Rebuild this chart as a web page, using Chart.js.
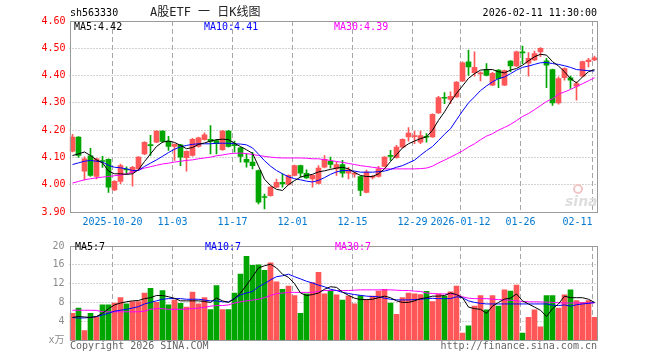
<!DOCTYPE html>
<html><head><meta charset="utf-8">
<script src="https://cdn.jsdelivr.net/npm/chart.js@4.4.1/dist/chart.umd.min.js"></script>
<style>
html,body{margin:0;padding:0;background:#fff;width:660px;height:360px;overflow:hidden;}
#wrap{position:relative;width:660px;height:360px;}
canvas{position:absolute;left:0;}
#c1{top:0;} #c2{top:235px;}
.t{position:absolute;font-family:"DejaVu Sans Mono","Noto Sans CJK SC",monospace;font-size:10px;line-height:12px;white-space:pre;color:#000;}
</style></head><body>
<div id="wrap">
<canvas id="c1" width="660" height="235"></canvas>
<canvas id="c2" width="660" height="125"></canvas>
<div class="t" style="left:70px;top:7px;">sh563330</div>
<div class="t" style="left:150px;top:6px;font-size:12px;line-height:13px;color:#222;">A股ETF 一 日K线图</div>
<div class="t" style="right:63px;top:7px;">2026-02-11 11:30:00</div>
<div class="t" style="left:74px;top:21px;">MA5:4.42</div>
<div class="t" style="left:204px;top:21px;color:#0000ff;">MA10:4.41</div>
<div class="t" style="left:334px;top:21px;color:#ff00ff;">MA30:4.39</div>
<div class="t" style="left:75px;top:241px;">MA5:7</div>
<div class="t" style="left:205px;top:241px;color:#0000ff;">MA10:7</div>
<div class="t" style="left:335px;top:241px;color:#ff00ff;">MA30:7</div>
<div class="t" style="left:70px;top:340px;color:#666;">Copyright 2026 SINA.COM</div>
<div class="t" style="right:63px;top:340px;color:#666;">http://finance.sina.com.cn</div>
</div>
<script>
const dates = [
'2025-10-09','2025-10-10','2025-10-13','2025-10-14','2025-10-15','2025-10-16','2025-10-17','2025-10-20','2025-10-21','2025-10-22','2025-10-23','2025-10-24','2025-10-27','2025-10-28','2025-10-29','2025-10-30','2025-10-31',
'2025-11-03','2025-11-04','2025-11-05','2025-11-06','2025-11-07','2025-11-10','2025-11-11','2025-11-12','2025-11-13','2025-11-14','2025-11-17','2025-11-18','2025-11-19','2025-11-20','2025-11-21','2025-11-24','2025-11-25','2025-11-26','2025-11-27','2025-11-28',
'2025-12-01','2025-12-02','2025-12-03','2025-12-04','2025-12-05','2025-12-08','2025-12-09','2025-12-10','2025-12-11','2025-12-12','2025-12-15','2025-12-16','2025-12-17','2025-12-18','2025-12-19','2025-12-22','2025-12-23','2025-12-24','2025-12-25','2025-12-26','2025-12-29','2025-12-30','2025-12-31',
'2026-01-05','2026-01-06','2026-01-07','2026-01-08','2026-01-09','2026-01-12','2026-01-13','2026-01-14','2026-01-15','2026-01-16','2026-01-19','2026-01-20','2026-01-21','2026-01-22','2026-01-23','2026-01-26','2026-01-27','2026-01-28','2026-01-29','2026-01-30',
'2026-02-02','2026-02-03','2026-02-04','2026-02-05','2026-02-06','2026-02-09','2026-02-10','2026-02-11'];

const opens = [4.123,4.175,4.050,4.106,4.030,4.088,4.093,3.981,4.012,4.057,4.046,4.058,4.113,4.146,4.156,4.197,4.160,4.140,4.146,4.099,
4.107,4.140,4.165,4.166,4.162,4.128,4.197,4.146,4.135,4.093,4.083,4.052,3.956,3.960,3.991,4.009,4.001,4.034,4.070,4.042,
4.021,4.005,4.064,4.086,4.058,4.074,4.042,4.039,4.030,3.972,4.027,4.030,4.067,4.106,4.099,4.138,4.175,4.176,4.156,4.176,
4.175,4.263,4.320,4.313,4.322,4.380,4.450,4.411,4.406,4.422,4.365,4.420,4.365,4.453,4.435,4.485,4.445,4.457,4.487,4.454,
4.422,4.300,4.392,4.392,4.361,4.398,4.451,4.457];
const highs = [4.185,4.176,4.102,4.133,4.097,4.104,4.095,4.015,4.076,4.066,4.067,4.103,4.158,4.181,4.198,4.198,4.177,4.150,4.148,4.124,
4.170,4.175,4.190,4.217,4.166,4.199,4.199,4.160,4.137,4.113,4.119,4.054,3.966,3.993,4.021,4.040,4.036,4.072,4.072,4.055,
4.036,4.070,4.107,4.101,4.083,4.089,4.064,4.046,4.032,4.054,4.034,4.067,4.103,4.126,4.144,4.168,4.209,4.197,4.197,4.187,
4.260,4.324,4.338,4.340,4.378,4.450,4.493,4.487,4.414,4.444,4.412,4.422,4.420,4.455,4.490,4.508,4.484,4.490,4.503,4.463,
4.424,4.395,4.428,4.398,4.377,4.453,4.463,4.471];
const lows = [4.120,4.100,4.018,4.030,4.021,4.063,3.972,3.978,4.004,4.040,3.995,4.056,4.110,4.107,4.154,4.155,4.126,4.089,4.070,4.050,
4.105,4.138,4.163,4.113,4.113,4.126,4.138,4.119,4.083,4.064,4.058,3.930,3.911,3.958,3.989,3.991,3.999,4.032,4.028,4.023,
3.991,4.003,4.062,4.061,4.034,4.028,4.021,4.028,3.960,3.970,4.021,4.028,4.065,4.089,4.097,4.136,4.160,4.150,4.150,4.156,
4.173,4.261,4.297,4.297,4.320,4.378,4.401,4.398,4.380,4.399,4.363,4.356,4.363,4.414,4.433,4.444,4.398,4.455,4.469,4.356,
4.291,4.295,4.383,4.353,4.310,4.396,4.432,4.455];
const closes = [4.175,4.107,4.095,4.034,4.095,4.085,3.991,4.012,4.070,4.054,4.064,4.101,4.155,4.143,4.197,4.159,4.140,4.148,4.101,4.122,
4.166,4.172,4.183,4.159,4.150,4.197,4.140,4.143,4.104,4.083,4.070,3.936,3.953,3.991,4.009,4.003,4.034,4.070,4.042,4.025,
4.034,4.061,4.093,4.074,4.074,4.042,4.055,4.041,3.979,4.046,4.029,4.058,4.101,4.104,4.138,4.166,4.189,4.178,4.180,4.174,
4.258,4.319,4.317,4.324,4.376,4.447,4.432,4.430,4.408,4.401,4.408,4.389,4.418,4.435,4.487,4.483,4.463,4.481,4.500,4.438,
4.300,4.389,4.426,4.383,4.371,4.451,4.457,4.465];

const ma5 = [4.107,4.113,4.120,4.107,4.091,4.080,4.050,4.040,4.040,4.038,4.040,4.055,4.085,4.113,4.140,4.156,4.160,4.155,4.144,4.132,
4.136,4.148,4.153,4.160,4.165,4.167,4.165,4.152,4.140,4.128,4.115,4.068,4.020,3.997,3.983,3.979,4.000,4.015,4.028,4.034,
4.038,4.047,4.051,4.056,4.061,4.064,4.058,4.045,4.034,4.030,4.030,4.040,4.058,4.085,4.110,4.135,4.150,4.160,4.169,4.175,
4.200,4.236,4.267,4.303,4.335,4.362,4.390,4.407,4.420,4.422,4.422,4.414,4.410,4.420,4.426,4.438,4.454,4.469,4.478,4.475,
4.451,4.435,4.414,4.389,4.373,4.395,4.414,4.422];
const ma10 = [4.074,4.080,4.086,4.089,4.086,4.083,4.071,4.064,4.062,4.058,4.052,4.052,4.067,4.079,4.091,4.104,4.118,4.130,4.139,4.144,
4.148,4.150,4.150,4.150,4.152,4.152,4.152,4.150,4.149,4.146,4.135,4.112,4.088,4.068,4.052,4.040,4.029,4.022,4.018,4.013,
4.010,4.016,4.026,4.038,4.047,4.052,4.052,4.050,4.046,4.046,4.046,4.048,4.050,4.056,4.064,4.070,4.080,4.090,4.108,4.125,
4.140,4.162,4.185,4.205,4.238,4.270,4.300,4.322,4.345,4.362,4.377,4.389,4.395,4.407,4.420,4.430,4.435,4.441,4.447,4.448,
4.444,4.441,4.436,4.430,4.422,4.420,4.418,4.417];
const ma30 = [4.006,4.012,4.018,4.022,4.025,4.028,4.030,4.033,4.035,4.040,4.046,4.054,4.061,4.066,4.071,4.076,4.079,4.083,4.086,4.089,
4.091,4.095,4.098,4.101,4.106,4.109,4.113,4.115,4.116,4.114,4.111,4.107,4.104,4.101,4.099,4.098,4.098,4.098,4.098,4.097,
4.095,4.095,4.092,4.089,4.085,4.082,4.078,4.074,4.070,4.067,4.064,4.061,4.058,4.058,4.058,4.058,4.058,4.058,4.059,4.061,
4.068,4.080,4.090,4.101,4.112,4.124,4.138,4.150,4.165,4.178,4.187,4.200,4.210,4.221,4.235,4.250,4.261,4.275,4.290,4.305,
4.315,4.332,4.340,4.349,4.360,4.370,4.381,4.392];

const volumes = [5.67,6.8,2.0,5.67,5.0,7.47,7.47,7.87,9.0,7.67,8.2,8.2,10.0,11.0,8.0,10.53,7.47,8.47,7.8,7.0,
10.2,7.67,9.0,6.47,11.6,6.47,6.47,10.0,14.0,17.8,15.87,16.0,14.8,16.4,12.4,10.8,11.47,9.47,5.67,9.8,
12.2,14.4,9.8,10.5,9.6,8.47,9.33,7.67,9.47,8.47,9.33,10.4,10.8,7.87,5.47,9.0,10.0,9.8,9.67,10.33,
8.2,9.8,9.33,10.27,11.47,1.47,3.0,7.2,9.47,6.4,9.47,7.2,10.67,10.4,11.67,1.47,4.8,6.4,2.8,9.47,
9.47,6.8,9.6,10.67,8.4,8.0,8.4,4.8];
const volMa5 = [4.8,5.0,4.9,4.8,5.0,5.67,6.67,7.47,7.87,8.13,8.33,8.4,8.8,9.0,9.47,9.47,9.2,8.87,8.33,8.33,
8.33,8.33,8.2,8.0,8.93,8.33,8.0,8.8,10.0,11.67,13.47,15.33,15.8,16.13,15.33,14.0,13.33,12.0,10.0,9.47,
9.67,10.0,10.8,11.33,11.2,10.2,9.5,8.9,8.6,8.6,8.67,9.0,9.33,9.0,8.33,8.0,8.0,8.33,8.8,9.0,
9.33,9.33,9.47,10.0,9.67,9.0,7.0,6.67,6.53,5.67,7.2,8.0,8.7,8.9,9.8,8.33,7.67,7.0,6.33,5.0,
6.67,7.67,9.33,9.0,9.0,9.0,8.67,8.0];
const volMa10 = [4.8,4.67,4.7,4.8,5.0,5.33,5.67,6.13,6.33,6.53,6.8,7.1,7.67,8.0,8.33,8.67,8.8,8.8,8.8,8.67,
8.67,8.67,8.5,8.33,8.33,8.13,8.13,8.8,9.6,10.0,10.33,11.33,12.0,12.8,13.47,13.67,14.0,13.47,13.0,12.5,
12.13,11.67,11.33,10.8,10.53,10.13,9.9,9.67,9.5,9.33,9.25,9.2,8.9,8.67,8.53,8.53,8.53,8.6,8.67,8.8,
8.87,8.8,8.8,8.8,9.2,9.0,8.33,8.0,7.8,7.67,7.67,7.67,7.67,7.67,7.67,7.67,7.67,7.67,7.67,7.67,
7.4,7.33,7.47,7.2,7.5,7.67,7.8,8.0];
const volMa30 = [6.33,6.33,6.33,6.33,6.3,6.0,6.0,6.0,6.0,6.0,6.0,6.0,6.13,6.53,6.67,6.67,6.53,6.53,6.53,6.6,
6.67,6.8,6.93,7.2,7.33,7.33,7.47,7.87,8.13,8.33,8.5,8.67,9.0,9.47,9.87,10.0,10.13,10.13,10.13,10.13,
10.13,10.33,10.53,10.53,10.53,10.53,10.53,10.6,10.67,10.67,10.67,10.67,10.67,10.67,10.6,10.53,10.53,10.4,10.33,10.0,
9.9,9.8,9.8,9.8,9.67,9.2,8.9,8.8,8.8,8.8,8.67,8.6,8.53,8.45,8.33,8.2,8.13,8.13,8.1,8.05,
8.0,7.93,7.87,7.87,7.87,7.87,7.87,7.87];

const tickDates = ['2025-10-20','2025-11-03','2025-11-17','2025-12-01','2025-12-15','2025-12-29','2026-01-12','2026-01-26','2026-02-11'];
const tickTexts = ['2025-10-20','11-03','11-17','12-01','12-15','12-29','2026-01-12','01-26','02-11'];

const RED = '#ff5757', GREEN = '#00a600';
const FONT = '"DejaVu Sans Mono","Noto Sans CJK SC",monospace';
const candleColors = closes.map((c, i) => c >= opens[i] ? RED : GREEN);

function lineDs(data, color) {
  return {type:'line', data, borderColor:color, borderWidth:1, pointRadius:0, tension:0, fill:false, order:0};
}

function decor(withLabels, watermark) {
  return {
    id: 'decor',
    beforeDatasetsDraw(chart) {
      const {ctx, chartArea:a, scales:{x, y}} = chart;
      ctx.save();
      ctx.lineWidth = 1;
      ctx.strokeStyle = '#a6a6a6';
      ctx.setLineDash([1, 2]);
      y.ticks.forEach((t, k) => {
        if (k === 0 || k === y.ticks.length - 1) return;
        const py = Math.floor(y.getPixelForValue(t.value)) + 0.5;
        ctx.beginPath(); ctx.moveTo(a.left, py); ctx.lineTo(a.right, py); ctx.stroke();
      });
      ctx.setLineDash([5, 3]);
      tickDates.forEach(d => {
        const i = dates.indexOf(d);
        const px = Math.floor(x.getPixelForValue(i)) - 2 + 0.5;
        ctx.beginPath(); ctx.moveTo(px, a.top); ctx.lineTo(px, a.bottom); ctx.stroke();
      });
      ctx.setLineDash([]);
      if (watermark) {
        ctx.strokeStyle = '#f2c6c6'; ctx.lineWidth = 2;
        ctx.beginPath(); ctx.arc(578, 189, 4, 0, Math.PI * 2); ctx.stroke();
        ctx.fillStyle = '#dedede';
        ctx.font = 'italic bold 14px "DejaVu Sans"';
        ctx.textAlign = 'left'; ctx.textBaseline = 'alphabetic';
        ctx.fillText('sina', 565, 206);
      }
      ctx.restore();
    },
    afterDatasetsDraw(chart) {
      const {ctx, chartArea:a} = chart;
      ctx.save();
      ctx.strokeStyle = '#9a9a9a'; ctx.lineWidth = 1;
      const l = Math.round(a.left) + 0.5, r = Math.floor(a.right) + 0.5;
      const t = Math.round(a.top) + 0.5, b = Math.round(a.bottom) + 0.5;
      ctx.strokeRect(l, t, r - l, b - t);
      ctx.restore();
    },
    afterDraw(chart) {
      if (!withLabels) return;
      const {ctx, scales:{x}} = chart;
      ctx.save();
      ctx.font = '10px ' + FONT;
      ctx.fillStyle = '#0078d0';
      ctx.textBaseline = 'alphabetic';
      tickDates.forEach((d, k) => {
        const i = dates.indexOf(d);
        const px = Math.floor(x.getPixelForValue(i)) - 2 + 0.5;
        const last = k === tickDates.length - 1;
        ctx.textAlign = last ? 'right' : 'center';
        ctx.fillText(tickTexts[k], px, 225);
      });
      ctx.restore();
    }
  };
}

const base = {responsive:false, animation:false, events:[],
  plugins:{legend:{display:false}, tooltip:{enabled:false}}};

new Chart(document.getElementById('c1'), {
  type: 'bar',
  data: {labels: dates, datasets: [
    lineDs(ma5, '#000000'), lineDs(ma10, '#0000ff'), lineDs(ma30, '#ff00ff'),
    {type:'bar', data: opens.map((o, i) => [o, closes[i]]), backgroundColor: candleColors,
      barThickness: 5, grouped: false, minBarLength: 1, order: 1},
    {type:'bar', data: lows.map((l, i) => [l, highs[i]]), backgroundColor: candleColors,
      barThickness: 1, grouped: false, order: 2}
  ]},
  options: Object.assign({}, base, {
    layout: {padding: {left: 0, right: 62.5, top: 21, bottom: 23}},
    scales: {
      x: {type: 'category', offset: true, display: false},
      y: {min: 3.9, max: 4.6, afterFit(s) { s.width = 69.5; },
        grid: {display: false, drawTicks: false}, border: {display: false},
        ticks: {stepSize: 0.1, padding: 4, color: '#ff0000', font: {family: FONT, size: 10},
          callback: v => Number(v).toFixed(2)}}
    }
  }),
  plugins: [decor(true, true)]
});

new Chart(document.getElementById('c2'), {
  type: 'bar',
  data: {labels: dates, datasets: [
    lineDs(volMa5, '#000000'), lineDs(volMa10, '#0000ff'), lineDs(volMa30, '#ff00ff'),
    {type:'bar', data: volumes, backgroundColor: candleColors, barThickness: 5, grouped: false, order: 1}
  ]},
  options: Object.assign({}, base, {
    layout: {padding: {left: 0, right: 62.5, top: 6, bottom: 20}},
    scales: {
      x: {type: 'category', offset: true, display: false},
      y: {min: 0, max: 20, afterFit(s) { s.width = 69.5; },
        grid: {display: false, drawTicks: false}, border: {display: false},
        ticks: {stepSize: 4, padding: 5, color: '#8c8c8c', font: {family: FONT, size: 10},
          callback: v => v === 0 ? 'x万' : String(v)}}
    }
  }),
  plugins: [decor(false, false)]
});
</script>
</body></html>
